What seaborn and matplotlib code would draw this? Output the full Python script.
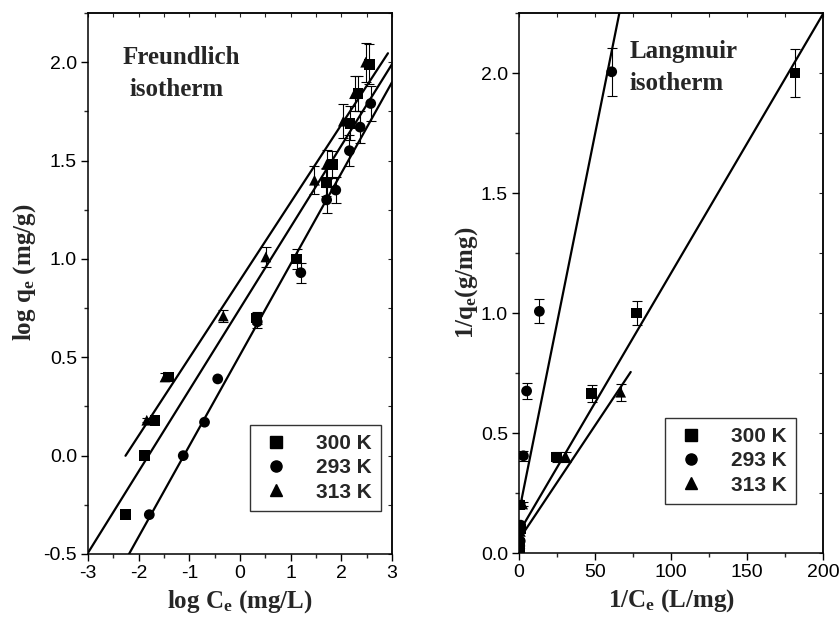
import numpy as np
import pandas as pd
import matplotlib
matplotlib.use("Agg")
import matplotlib.pyplot as plt
import seaborn as sns
from matplotlib.ticker import MultipleLocator
from matplotlib.lines import Line2D

# ---------------- data ----------------
series = ["300 K", "293 K", "313 K"]
markers = {"300 K": "s", "293 K": "o", "313 K": "^"}

# Freundlich: log Ce vs log qe
f_x_300 = [-2.26, -1.89, -1.68, -1.41, 0.33, 1.12, 1.70, 1.82, 2.17, 2.33, 2.55]
f_y_300 = [-0.30, 0.00, 0.177, 0.40, 0.70, 1.00, 1.39, 1.48, 1.69, 1.84, 1.99]
f_e_300 = [0.0, 0.0, 0.0, 0.0, 0.03, 0.05, 0.07, 0.07, 0.085, 0.09, 0.10]
f_x_293 = [-1.79, -1.12, -0.70, -0.44, 0.34, 1.20, 1.71, 1.89, 2.16, 2.37, 2.58]
f_y_293 = [-0.30, 0.00, 0.17, 0.39, 0.68, 0.93, 1.30, 1.35, 1.55, 1.67, 1.79]
f_e_293 = [0.0, 0.0, 0.0, 0.0, 0.03, 0.05, 0.065, 0.065, 0.08, 0.08, 0.09]
f_x_313 = [-1.84, -1.48, -0.33, 0.51, 1.47, 1.71, 2.04, 2.26, 2.48]
f_y_313 = [0.18, 0.40, 0.71, 1.01, 1.40, 1.48, 1.70, 1.84, 2.00]
f_e_313 = [0.01, 0.02, 0.03, 0.05, 0.07, 0.075, 0.085, 0.09, 0.10]
# fit lines: slope, intercept, x-range
f_fit = {"313 K": (0.395, 0.892, -2.26, 2.92),
         "300 K": (0.414, 0.748, -3.0, 3.0),
         "293 K": (0.462, 0.512, -2.2, 3.0)}

# Langmuir: 1/Ce vs 1/qe
l_x_300 = [181.6, 77.4, 47.8, 24.8, 0.6, 0.8, 0.5, 0.4]
l_y_300 = [2.00, 1.00, 0.664, 0.40, 0.20, 0.10, 0.04, 0.02]
l_e_300 = [0.10, 0.05, 0.035, 0.02, 0.01, 0.0, 0.0, 0.0]
l_x_293 = [61.0, 13.4, 5.0, 2.9, 1.1, 0.8, 0.5]
l_y_293 = [2.005, 1.007, 0.675, 0.405, 0.116, 0.05, 0.03]
l_e_293 = [0.10, 0.05, 0.035, 0.02, 0.0, 0.0, 0.0]
l_x_313 = [66.9, 30.9, 2.4, 0.9, 0.6, 0.4]
l_y_313 = [0.67, 0.40, 0.204, 0.09, 0.04, 0.015]
l_e_313 = [0.035, 0.02, 0.01, 0.0, 0.0, 0.0]
l_fit = {"293 K": (0.0315, 0.17, 0.5, 66.0),
         "300 K": (0.0108, 0.086, 0.5, 200.0),
         "313 K": (0.0095, 0.056, 0.66, 73.5)}

# ---------------- style ----------------
sns.set_theme(style="ticks")
plt.rcParams["font.family"] = ["Liberation Sans", "DejaVu Sans"]
plt.rcParams["mathtext.fontset"] = "custom"
plt.rcParams["mathtext.rm"] = "Liberation Serif:bold"
plt.rcParams["mathtext.bf"] = "Liberation Serif:bold"
plt.rcParams["mathtext.it"] = "Liberation Serif:bold"

fig = plt.figure(figsize=(8.39, 6.25), dpi=100)
W, H = 839, 625
axL = fig.add_axes([88 / W, 1 - 554 / H, 304 / W, 541 / H])
axR = fig.add_axes([519 / W, 1 - 553 / H, 304 / W, 540 / H])


def make_df(xs, ys, es):
    rows = []
    for s, x, y, e in zip(series, xs, ys, es):
        for a, b, c in zip(x, y, e):
            rows.append({"x": a, "y": b, "err": c, "T": s})
    return pd.DataFrame(rows)


dfL = make_df([f_x_300, f_x_293, f_x_313], [f_y_300, f_y_293, f_y_313],
              [f_e_300, f_e_293, f_e_313])
dfR = make_df([l_x_300, l_x_293, l_x_313], [l_y_300, l_y_293, l_y_313],
              [l_e_300, l_e_293, l_e_313])


def draw(ax, df, fits):
    # fit lines
    for s, (m, b, x0, x1) in fits.items():
        xx = np.array([x0, x1])
        sns.lineplot(x=xx, y=m * xx + b, ax=ax, color="black", lw=1.6,
                     legend=False, zorder=2)
    # error bars
    for s in series:
        d = df[df["T"] == s]
        d = d[d["err"] > 0]
        ax.errorbar(d["x"], d["y"], yerr=d["err"], fmt="none", ecolor="black",
                    elinewidth=0.8, capsize=3.5, capthick=0.8, zorder=3)
    sns.scatterplot(data=df, x="x", y="y", style="T", markers=markers,
                    style_order=series, color="black", s=60, edgecolor="black",
                    linewidth=0, ax=ax, legend=False, zorder=4)


draw(axL, dfL, f_fit)
draw(axR, dfR, l_fit)

axL.set_xlim(-3, 3)
axL.set_ylim(-0.5, 2.25)
axL.xaxis.set_major_locator(MultipleLocator(1))
axL.xaxis.set_minor_locator(MultipleLocator(0.5))
axL.yaxis.set_major_locator(MultipleLocator(0.5))
axL.yaxis.set_minor_locator(MultipleLocator(0.25))
axL.set_yticks([-0.5, 0.0, 0.5, 1.0, 1.5, 2.0])
axL.set_yticklabels(["-0.5", "0.0", "0.5", "1.0", "1.5", "2.0"])
axL.set_xticks([-3, -2, -1, 0, 1, 2, 3])
axL.set_xticklabels(["-3", "-2", "-1", "0", "1", "2", "3"])

axR.set_xlim(0, 200)
axR.set_ylim(0, 2.25)
axR.xaxis.set_major_locator(MultipleLocator(50))
axR.xaxis.set_minor_locator(MultipleLocator(25))
axR.yaxis.set_major_locator(MultipleLocator(0.5))
axR.yaxis.set_minor_locator(MultipleLocator(0.25))
axR.yaxis.set_major_formatter(matplotlib.ticker.FormatStrFormatter("%.1f"))

for ax in (axL, axR):
    for sp in ax.spines.values():
        sp.set_visible(True)
        sp.set_linewidth(1.1)
        sp.set_color("black")
    ax.tick_params(which="major", direction="out", length=5, width=1.0,
                   labelsize=14, colors="black", pad=3)
    ax.tick_params(which="minor", direction="out", length=3, width=1.0)
    secx = ax.secondary_xaxis("top")
    secx.xaxis.set_major_locator(ax.xaxis.get_major_locator())
    secx.xaxis.set_minor_locator(ax.xaxis.get_minor_locator())
    secx.tick_params(which="both", direction="in", length=3, width=0.8,
                     labeltop=False)
    secx.spines["top"].set_linewidth(1.1)
    secy = ax.secondary_yaxis("right")
    secy.yaxis.set_major_locator(ax.yaxis.get_major_locator())
    secy.yaxis.set_minor_locator(ax.yaxis.get_minor_locator())
    secy.tick_params(which="both", direction="in", length=3, width=0.8,
                     labelright=False)
    secy.spines["right"].set_linewidth(1.1)

lab_font = dict(family="Liberation Serif", weight="bold", size=18)
axL.set_xlabel(r"log C$_\mathrm{e}$ (mg/L)", fontdict=lab_font, labelpad=4)
axL.set_ylabel(r"log q$_\mathrm{e}$ (mg/g)", fontdict=lab_font)
axR.set_xlabel(r"1/C$_\mathrm{e}$ (L/mg)", fontdict=lab_font, labelpad=4)
axR.set_ylabel(r"1/q$_\mathrm{e}$(g/mg)", fontdict=lab_font)
axL.yaxis.set_label_coords(-0.165, 0.52)
axR.yaxis.set_label_coords(-0.128, 0.5)

ttl = dict(family="Liberation Serif", weight="bold", size=18, va="center",
           ha="left")
axL.text(0.115, 0.917, "Freundlich", transform=axL.transAxes, **ttl)
axL.text(0.138, 0.858, "isotherm", transform=axL.transAxes, **ttl)
axR.text(0.365, 0.928, "Langmuir", transform=axR.transAxes, **ttl)
axR.text(0.365, 0.870, "isotherm", transform=axR.transAxes, **ttl)

handles = [Line2D([], [], marker=markers[s], color="black", ls="none",
                  markersize=8) for s in series]
for ax, anchor in ((axL, (0.964, 0.0795)), (axR, (0.911, 0.0907))):
    leg = ax.legend(handles, series, loc="lower right", bbox_to_anchor=anchor,
                    borderaxespad=0, frameon=True, fancybox=False,
                    handlelength=1.6, handletextpad=1.1, borderpad=0.45,
                    labelspacing=0.25, prop=dict(family="Liberation Sans",
                                                 weight="bold", size=15))
    leg.get_frame().set_edgecolor("black")
    leg.get_frame().set_linewidth(1.0)
    leg.set_zorder(10)

fig.savefig("out.png", dpi=100)
